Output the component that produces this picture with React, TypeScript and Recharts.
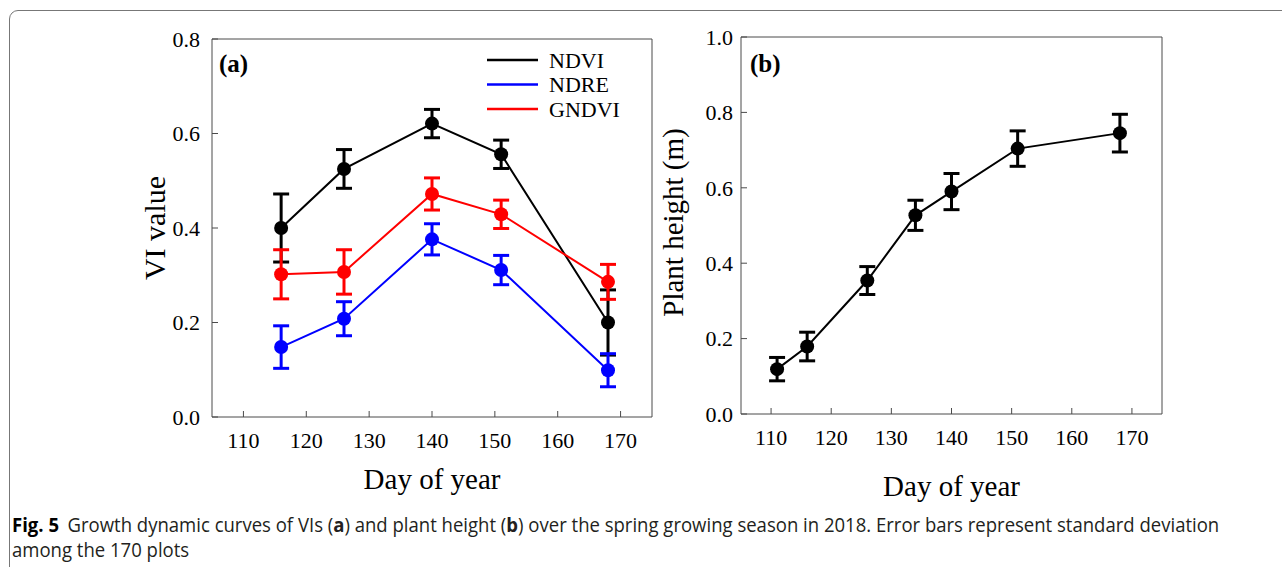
import React from 'react';
import { LineChart, Line, XAxis, YAxis, ErrorBar, Legend } from 'recharts';

// Day of year for the vegetation-index flights
const viDays = [116, 126, 140, 151, 168];
const ndviMean = [0.4, 0.525, 0.621, 0.556, 0.2];
const ndviSd = [0.072, 0.041, 0.03, 0.03, 0.069];
const ndreMean = [0.148, 0.208, 0.376, 0.311, 0.099];
const ndreSd = [0.045, 0.036, 0.033, 0.031, 0.035];
const gndviMean = [0.302, 0.307, 0.472, 0.429, 0.286];
const gndviSd = [0.052, 0.047, 0.034, 0.03, 0.037];

// Day of year for the plant-height measurements
const heightDays = [111, 116, 126, 134, 140, 151, 168];
const heightMean = [0.119, 0.179, 0.354, 0.527, 0.59, 0.704, 0.745];
const heightSd = [0.031, 0.038, 0.037, 0.04, 0.048, 0.047, 0.05];

const dayTicks = [110, 120, 130, 140, 150, 160, 170];
const viTicks = [0, 0.2, 0.4, 0.6, 0.8];
const heightTicks = [0, 0.2, 0.4, 0.6, 0.8, 1.0];

const viSeries = [
  { key: 'ndvi', name: 'NDVI', color: '#000000' },
  { key: 'ndre', name: 'NDRE', color: '#0000ff' },
  { key: 'gndvi', name: 'GNDVI', color: '#ff0000' },
];

const viRows = viDays.map((day, i) => ({
  day,
  ndvi: ndviMean[i],
  ndviSd: ndviSd[i],
  ndre: ndreMean[i],
  ndreSd: ndreSd[i],
  gndvi: gndviMean[i],
  gndviSd: gndviSd[i],
}));

const heightRows = heightDays.map((day, i) => ({
  day,
  height: heightMean[i],
  heightSd: heightSd[i],
}));

const SERIF = '"Liberation Serif", "Times New Roman", serif';
const FRAME = '#4a4a4a';
const serifStyle = { fontFamily: SERIF };

// Serif tick labels for the bottom (day) axis
const DayTick = (p: any) => (
  <text
    x={p.x}
    y={p.y}
    dy="0.71em"
    textAnchor="middle"
    fontFamily={SERIF}
    style={serifStyle}
    fontSize={22}
    fill="#000"
  >
    {p.payload.value}
  </text>
);

// Serif tick labels for the left (value) axis, one decimal place
const ValueTick = (p: any) => (
  <text
    x={p.x}
    y={p.y}
    dy="0.35em"
    textAnchor="end"
    fontFamily={SERIF}
    style={serifStyle}
    fontSize={22}
    fill="#000"
  >
    {Number(p.payload.value).toFixed(1)}
  </text>
);

const xTitle = (dy: number) => (p: any) => {
  const vb = p.viewBox;
  return (
    <text x={vb.x + vb.width / 2} y={vb.y + dy} textAnchor="middle" fontFamily={SERIF} fontSize={29} fill="#000">
      Day of year
    </text>
  );
};

const yTitle = (text: string, dx: number, dy: number, size: number) => (p: any) => {
  const vb = p.viewBox;
  const x = vb.x + vb.width - dx;
  const y = vb.y + vb.height / 2 + dy;
  return (
    <text x={x} y={y} transform={`rotate(-90, ${x}, ${y})`} textAnchor="middle" fontFamily={SERIF} fontSize={size} fill="#000">
      {text}
    </text>
  );
};

const panelTag = (tag: string, dx: number, dy: number) => (p: any) => {
  const vb = p.viewBox;
  return (
    <text x={vb.x + dx} y={vb.y + vb.height + dy} fontFamily={SERIF} fontSize={25} fontWeight="bold" fill="#000">
      {tag}
    </text>
  );
};

const renderLegend = () => (
  <svg width={170} height={76}>
    {viSeries.map((s, i) => {
      const y = 14 + i * 24.5;
      return (
        <g key={s.key}>
          <line x1={7} x2={58} y1={y} y2={y} stroke={s.color} strokeWidth={2.5} />
          <text x={69} y={y + 7.5} fontFamily={SERIF} fontSize={22} fill="#000">
            {s.name}
          </text>
        </g>
      );
    })}
  </svg>
);

function VIPanel() {
  return (
    <LineChart
      width={680}
      height={510}
      data={viRows}
      style={serifStyle}
      margin={{ top: 38, right: 27, bottom: 33, left: 152 }}
    >
      <XAxis
        dataKey="day"
        type="number"
        domain={[105, 175]}
        ticks={dayTicks}
        height={60}
        tickSize={-6}
        tickMargin={21}
        tick={<DayTick />}
        stroke={FRAME}
        label={xTitle(72)}
      />
      <XAxis
        xAxisId="top"
        orientation="top"
        type="number"
        domain={[105, 175]}
        height={1}
        tick={false}
        tickLine={false}
        stroke={FRAME}
        label={panelTag('(a)', 7, 33)}
      />
      <YAxis
        type="number"
        domain={[0, 0.8]}
        ticks={viTicks}
        width={60}
        tickSize={-6}
        tickMargin={18}
        tick={<ValueTick />}
        stroke={FRAME}
        label={yTitle('VI value', 47, 0, 30)}
      />
      <YAxis yAxisId="right" orientation="right" domain={[0, 0.8]} width={1} tick={false} tickLine={false} stroke={FRAME} />
      <Legend
        layout="vertical"
        align="center"
        verticalAlign="middle"
        content={renderLegend}
        wrapperStyle={{ position: 'absolute', left: 480, top: 46, width: 170, height: 76 }}
      />
      {viSeries.map((s) => (
        <Line
          key={s.key}
          dataKey={s.key}
          name={s.name}
          type="linear"
          stroke={s.color}
          strokeWidth={2}
          dot={{ r: 7, fill: s.color, stroke: s.color, strokeWidth: 0 }}
          activeDot={false}
          isAnimationActive={false}
        >
          <ErrorBar dataKey={`${s.key}Sd`} direction="y" width={8} strokeWidth={3} stroke={s.color} />
        </Line>
      ))}
    </LineChart>
  );
}

function HeightPanel() {
  return (
    <LineChart
      width={560}
      height={520}
      data={heightRows}
      style={serifStyle}
      margin={{ top: 36, right: 37, bottom: 46, left: 41 }}
    >
      <XAxis
        dataKey="day"
        type="number"
        domain={[105, 175]}
        ticks={dayTicks}
        height={60}
        tickSize={-6}
        tickMargin={21}
        tick={<DayTick />}
        stroke={FRAME}
        label={xTitle(82)}
      />
      <XAxis
        xAxisId="top"
        orientation="top"
        type="number"
        domain={[105, 175]}
        height={1}
        tick={false}
        tickLine={false}
        stroke={FRAME}
        label={panelTag('(b)', 9, 35)}
      />
      <YAxis
        type="number"
        domain={[0, 1]}
        ticks={heightTicks}
        width={60}
        tickSize={-6}
        tickMargin={14}
        tick={<ValueTick />}
        stroke={FRAME}
        label={yTitle('Plant height (m)', 58, -3, 29)}
      />
      <YAxis yAxisId="right" orientation="right" domain={[0, 1]} width={1} tick={false} tickLine={false} stroke={FRAME} />
      <Line
        dataKey="height"
        name="Plant height"
        type="linear"
        stroke="#000"
        strokeWidth={2}
        dot={{ r: 7, fill: '#000', stroke: '#000', strokeWidth: 0 }}
        activeDot={false}
        isAnimationActive={false}
      >
        <ErrorBar dataKey="heightSd" direction="y" width={8} strokeWidth={3} stroke="#000" />
      </Line>
    </LineChart>
  );
}

export default function App() {
  return (
    <div style={{ position: 'absolute', left: 0, top: 0, width: 1282, height: 567, overflow: 'hidden', background: '#fff' }}>
      <div
        style={{
          position: 'absolute',
          left: 9,
          top: 10,
          width: 1320,
          height: 620,
          border: '1.5px solid #777',
          borderRadius: 9,
          boxSizing: 'border-box',
        }}
      />
      <div style={{ position: 'absolute', left: 0, top: 0, fontFamily: SERIF }}>
        <VIPanel />
      </div>
      <div style={{ position: 'absolute', left: 640, top: 0, fontFamily: SERIF }}>
        <HeightPanel />
      </div>
      <div
        style={{
          position: 'absolute',
          left: 12,
          top: 512,
          fontFamily: '"Open Sans", "Noto Sans", sans-serif',
          fontSize: 19.5,
          lineHeight: '25px',
          color: '#231f20',
          whiteSpace: 'nowrap',
          transform: 'scaleX(0.95)',
          transformOrigin: '0 0',
        }}
      >
        <div>
          <b style={{ color: '#000', marginRight: 9 }}>Fig. 5</b>Growth dynamic curves of VIs (<b>a</b>) and plant
          height (<b>b</b>) over the spring growing season in 2018. Error bars represent standard deviation
        </div>
        <div>among the 170 plots</div>
      </div>
    </div>
  );
}
